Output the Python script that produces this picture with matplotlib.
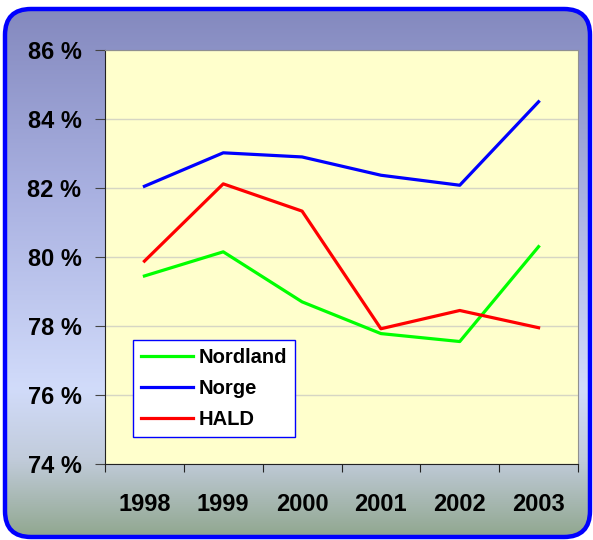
import matplotlib.pyplot as plt
import numpy as np
from matplotlib.patches import FancyBboxPatch
from matplotlib.colors import LinearSegmentedColormap

plt.rcParams['font.family'] = ['Liberation Sans', 'DejaVu Sans']
plt.rcParams['font.weight'] = 'bold'

years = ['1998', '1999', '2000', '2001', '2002', '2003']
nordland = [79.45, 80.15, 78.7, 77.78, 77.55, 80.3]
norge = [82.05, 83.02, 82.9, 82.37, 82.08, 84.5]
hald = [79.88, 82.12, 81.33, 77.92, 78.45, 77.95]

fig = plt.figure(figsize=(5.93, 5.40), dpi=100)

# background gradient inside a rounded frame
bg = fig.add_axes([0, 0, 1, 1])
bg.set_xlim(0, 593)
bg.set_ylim(540, 0)
bg.axis('off')
cmap = LinearSegmentedColormap.from_list('bg', [
    (0.0, (0.51, 0.53, 0.74)),
    (0.35, (0.66, 0.69, 0.88)),
    (0.72, (0.82, 0.86, 0.98)),
    (0.85, (0.76, 0.80, 0.86)),
    (1.0, (0.56, 0.65, 0.55)),
])
grad = np.linspace(0, 1, 256).reshape(-1, 1)
im = bg.imshow(grad, cmap=cmap, aspect='auto', extent=(0, 593, 540, 0))
frame = FancyBboxPatch((5, 9), 585, 528, boxstyle='round,pad=0,rounding_size=26',
                       facecolor='none', edgecolor='#0000ff', linewidth=3.2)
bg.add_patch(frame)
im.set_clip_path(frame)

ax = fig.add_axes([105 / 593, 76 / 540, 473 / 593, 414 / 540])
ax.set_facecolor('#ffffcc')
x = np.arange(len(years))
ax.plot(x, nordland, color='#00ff00', linewidth=2.3, label='Nordland')
ax.plot(x, norge, color='#0000ff', linewidth=2.3, label='Norge')
ax.plot(x, hald, color='#ff0000', linewidth=2.3, label='HALD')

ax.set_ylim(74, 86)
yt = np.arange(74, 87, 2)
ax.set_yticks(yt)
ax.set_yticklabels([f'{v} %' for v in yt], fontsize=17, fontweight='bold')
ax.grid(axis='y', color='#d6d6c4', linewidth=1)
ax.set_axisbelow(True)

ax.set_xlim(-0.5, 5.5)
ax.set_xticks(np.arange(-0.5, 6, 1))
ax.set_xticklabels([])
ax.set_xticks(x, minor=True)
ax.set_xticklabels(years, minor=True, fontsize=17, fontweight='bold')
ax.tick_params(axis='x', which='minor', length=0, pad=21)
ax.tick_params(axis='x', which='major', length=6, color='#222222')
ax.tick_params(axis='y', length=7, pad=10, color='#444444')

ax.spines['left'].set_color('#222222')
ax.spines['bottom'].set_color('#222222')
ax.spines['top'].set_color('#909090')
ax.spines['right'].set_color('#909090')

leg = ax.legend(loc='lower left', bbox_to_anchor=(28 / 473, 27 / 414),
                prop={'size': 14.5, 'weight': 'bold'}, frameon=True, fancybox=False,
                handlelength=2.6, handletextpad=0.25, labelspacing=0.6,
                borderpad=0.4, borderaxespad=0)
leg.get_frame().set_edgecolor('#0000ff')
leg.get_frame().set_linewidth(1.0)
leg.get_frame().set_facecolor('white')
leg.get_frame().set_alpha(1)

fig.savefig('out.png', dpi=100)
